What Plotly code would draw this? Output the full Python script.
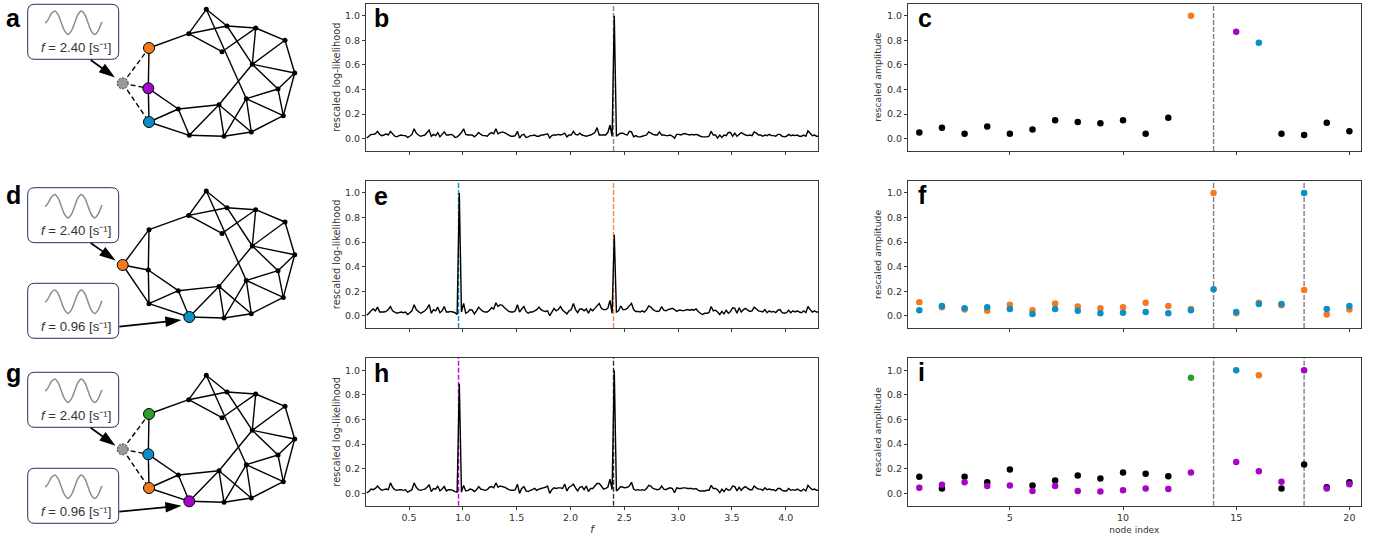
import plotly.graph_objects as go

W, H = 1383, 540

# ---------- likelihood curves: one value per frequency step ----------
FREQ_STEP = 0.02
FREQ_START = 0.107
LL_B = [
 .005,.02,.035,.035,.04,.06,.035,.025,.03,.04,
 .03,.06,.04,.02,.015,.025,.03,.025,.025,.01,
 .02,.035,.08,.045,.03,.02,.025,.03,.05,.07,
 .02,.035,.025,.05,.015,.035,.055,.03,.03,.035,
 .03,.01,.015,.03,.05,.08,.035,.03,.03,.03,
 .015,.03,.05,.035,.025,.025,.02,.04,.05,.04,
 .08,.04,.05,.055,.05,.04,.03,.02,.02,.025,
 .06,.005,.03,.035,.01,.015,.025,.025,.03,.02,
 .02,.03,.03,.035,.04,.005,.025,.03,.03,.035,
 .03,.035,.045,.015,.03,.03,.06,.035,.03,.045,
 .03,.025,.02,.025,.03,.04,.05,.09,.03,.03,
 .03,.03,.05,.11,.02,1.0,.02,.035,.045,.045,
 .035,.03,.06,.055,.015,.025,.015,.015,.02,.025,
 .03,.055,.045,.035,.03,.03,.055,.03,.03,.025,
 .025,.03,.02,.005,.035,.035,.03,.04,.04,.035,
 .03,.035,.03,.035,.03,.02,.015,.015,.015,.02,
 .06,.03,.03,.005,.03,.01,.03,.025,.05,.05,
 .02,.045,.02,.035,.05,.04,.03,.025,.03,.025,
 .055,.045,.03,.03,.02,.03,.025,.035,.025,.025,
 .02,.035,.035,.02,.015,.02,.035,.025,.03,.025,
 .03,.02,.02,.03,.02,.065,.045,.025,.03,.02,
 .02]
LL_E = [
 .005,.02,.04,.055,.04,.07,.03,.03,.03,.035,
 .05,.075,.04,.03,.02,.025,.03,.025,.03,.01,
 .025,.04,.09,.05,.035,.02,.03,.04,.06,.09,
 .02,.05,.04,.07,.025,.04,.075,.03,.03,.035,
 .03,.025,.01,1.0,.03,.10,.02,.03,.05,.045,
 .015,.04,.07,.05,.035,.03,.03,.045,.065,.055,
 .105,.075,.09,.085,.065,.05,.035,.03,.03,.04,
 .09,.03,.055,.075,.035,.02,.03,.03,.04,.05,
 .07,.05,.04,.035,.04,.0,.03,.06,.04,.05,
 .075,.045,.03,.015,.04,.05,.10,.05,.025,.055,
 .055,.04,.055,.02,.055,.04,.06,.08,.10,.06,
 .05,.05,.06,.125,.02,.66,.03,.04,.08,.05,
 .05,.06,.08,.10,.05,.035,.035,.03,.04,.03,
 .05,.08,.07,.05,.04,.035,.04,.075,.045,.04,
 .05,.055,.06,.05,.035,.045,.045,.04,.045,.05,
 .045,.05,.045,.055,.035,.02,.01,.02,.02,.025,
 .075,.04,.045,.03,.01,.035,.015,.045,.02,.035,
 .065,.06,.02,.065,.03,.05,.06,.045,.035,.04,
 .07,.055,.04,.035,.03,.05,.025,.04,.03,.035,
 .025,.045,.05,.025,.02,.025,.045,.025,.04,.03,
 .04,.03,.025,.04,.025,.075,.05,.03,.04,.03,
 .03]
LL_H = [
 .005,.015,.035,.03,.04,.06,.04,.025,.03,.035,
 .03,.085,.05,.03,.025,.03,.03,.025,.03,.01,
 .02,.03,.085,.05,.03,.025,.03,.035,.05,.07,
 .015,.04,.035,.06,.02,.035,.055,.02,.03,.03,
 .025,.015,.01,.89,.01,.065,.02,.025,.035,.03,
 .015,.03,.055,.035,.03,.025,.03,.05,.055,.045,
 .085,.05,.06,.055,.05,.04,.03,.025,.025,.03,
 .075,.0,.04,.055,.02,.015,.025,.03,.04,.025,
 .035,.04,.045,.05,.06,.0,.03,.045,.04,.045,
 .045,.04,.075,.02,.05,.06,.075,.045,.02,.05,
 .055,.03,.06,.015,.04,.04,.06,.08,.08,.06,
 .035,.04,.05,.115,.03,1.0,.02,.035,.055,.05,
 .045,.05,.06,.09,.035,.025,.03,.025,.03,.025,
 .04,.065,.06,.04,.035,.03,.035,.06,.035,.03,
 .04,.045,.04,.005,.045,.04,.04,.045,.045,.04,
 .04,.04,.035,.04,.025,.02,.02,.02,.025,.025,
 .065,.04,.04,.03,.005,.035,.015,.04,.025,.03,
 .06,.055,.02,.05,.025,.045,.055,.04,.03,.03,
 .06,.045,.035,.035,.025,.045,.03,.035,.03,.03,
 .02,.04,.04,.025,.02,.02,.04,.025,.03,.025,
 .035,.025,.02,.035,.02,.065,.045,.03,.035,.025,
 .025]

FREQ_A, FREQ_B = 0.96, 2.40

# ---------- node amplitudes ----------
C_NODES = [1,2,3,4,5,6,7,8,9,10,11,12,17,18,19,20]
C_BLACK = [.05,.09,.04,.10,.04,.075,.15,.135,.125,.15,.04,.17,.04,.03,.13,.06]
C_ORANGE_NODE, C_ORANGE = [13], [1.0]
C_PURPLE_NODE, C_PURPLE = [15], [.87]
C_BLUE_NODE, C_BLUE = [16], [.78]

F_NODES = list(range(1, 21))
F_ORANGE = [.11,.07,.05,.04,.09,.045,.10,.075,.06,.07,.105,.08,.055,1.0,.02,.105,.085,.21,.01,.05]
F_BLUE = [.045,.08,.06,.07,.055,.015,.055,.04,.02,.025,.03,.02,.045,.215,.03,.095,.095,1.0,.055,.08]

I_NODES_BLACK = [1,2,3,4,5,6,7,8,9,10,11,12,17,18,19,20]
I_BLACK = [.135,.04,.135,.09,.195,.065,.105,.145,.12,.17,.16,.14,.04,.235,.05,.09]
I_NODES_PURPLE = [1,2,3,4,5,6,7,8,9,10,11,12,13,15,16,17,18,19,20]
I_PURPLE = [.045,.07,.09,.06,.065,.02,.06,.02,.015,.025,.04,.035,.17,.255,.18,.095,1.0,.04,.075]
I_GREEN_NODE, I_GREEN = [13], [.94]
I_BLUE_NODE, I_BLUE = [15], [1.0]
I_ORANGE_NODE, I_ORANGE = [16], [.96]

# ---------- network (node id -> position in picture pixels, first panel) ----------
NODE_X = {1:206.3,2:227,3:255.7,4:285,5:294.7,6:283.3,7:251.3,8:224,9:188.7,10:222,
          11:252.3,12:278,13:149,14:122.7,15:148.3,16:149,17:178.3,18:189.3,19:246.3,20:219}
NODE_Y = {1:9.3,2:26,3:28,4:40.3,5:73,6:115.7,7:132,8:136.3,9:33.7,10:51.7,
          11:64.3,12:89,13:48,14:83.3,15:88.3,16:122,17:109,18:135.3,19:98.7,20:104.7}
EDGES = [(1,9),(1,2),(1,19),(9,2),(9,10),(2,3),(2,11),(10,3),(3,11),(3,4),(4,11),(4,5),
         (11,5),(11,12),(12,5),(5,6),(12,6),(12,19),(19,6),(19,7),(19,8),(20,7),(20,8),
         (20,18),(20,11),(20,17),(17,18),(17,16),(17,15),(16,18),(18,8),(8,7),(7,6),
         (13,9),(13,15),(15,16)]
HUB_EDGES = [(14,13),(14,15),(14,16)]

ORANGE, BLUE, PURPLE, GREEN, GREY = "#F47A20", "#0A90C4", "#A305CB", "#2CA02C", "#999999"

NET_SHIFT = {"a": 0.0, "d": 181.7, "g": 366.0}
NET_COLORS = {"a": {13: ORANGE, 15: PURPLE, 16: BLUE, 14: GREY},
              "d": {14: ORANGE, 18: BLUE},
              "g": {13: GREEN, 15: BLUE, 16: ORANGE, 18: PURPLE, 14: GREY}}

# callouts: box top in pixels, label, arrow start and end
CALLOUTS = [
    (4.3,   "2.40", (90.7, 60.0),   (115.0, 77.5)),
    (187.7, "2.40", (90.7, 243.0),  (115.5, 260.5)),
    (283.3, "0.96", (119.3, 326.7), (181.5, 320.0)),
    (372.3, "2.40", (90.7, 427.7),  (115.5, 445.7)),
    (468.3, "0.96", (119.3, 511.7), (181.5, 505.7)),
]
WAVE_X = [45.3,48,51.3,54.7,58,61.3,64.7,68,71.3,74.7,78,81.3,84.7,88,91.3,94.7,98,101.3,102]
WAVE_DY = [19,15.5,9.5,6.7,10.1,18.5,26.8,30.2,26.8,18.5,10.1,6.7,10.1,18.5,26.8,30.2,26.8,19,17.5]

# ---------- panel frames in pixels ----------
COL_L = [(366.0, 818.0), (908.0, 1360.7)]
ROWS = [(3.5, 151.0), (180.7, 328.0), (358.0, 505.7)]
FONT = "DejaVu Sans"
TXT = "#333333"
AXC = "#3a3a3a"

fig = go.Figure()
layout = {}

def yd(t, b):
    return [1 - b / H, 1 - t / H]

def add_axis(n, col, row):
    suffix = "" if n == 1 else str(n)
    xl, xr = COL_L[col]
    t, b = ROWS[row]
    xa = dict(domain=[xl / W, xr / W], anchor="y" + suffix, showgrid=False, zeroline=False,
              showline=True, mirror=True, linecolor=AXC, linewidth=1, ticks="outside", ticklen=3,
              tickwidth=1, tickcolor=AXC, tickfont=dict(family=FONT, size=9.5, color=TXT),
              showticklabels=row == 2)
    if col == 0:
        xa.update(range=[0.1, 4.3], tickmode="linear", tick0=0.5, dtick=0.5, tickformat=".1f")
        if row == 2:
            xa["title"] = dict(text="<i>f</i>", font=dict(family=FONT, size=10.5, color=TXT), standoff=3)
    else:
        xa.update(range=[0.5, 20.5], tickmode="array", tickvals=[5, 10, 15, 20])
        if row == 2:
            xa["title"] = dict(text="node index", font=dict(family=FONT, size=9, color=TXT), standoff=4)
    ya = dict(domain=yd(t, b), anchor="x" + suffix, range=[-0.1, 1.1], showgrid=False, zeroline=False,
              showline=True, mirror=True, linecolor=AXC, linewidth=1, ticks="outside", ticklen=3,
              tickwidth=1, tickcolor=AXC, tickfont=dict(family=FONT, size=9.5, color=TXT),
              tickmode="linear", tick0=0, dtick=0.2, tickformat=".1f",
              title=dict(text="rescaled log-likelihood" if col == 0 else "rescaled amplitude",
                         font=dict(family=FONT, size=9.8 if col == 0 else 9.3, color=TXT),
                         standoff=2 if col == 0 else 3))
    layout["xaxis" + suffix] = xa
    layout["yaxis" + suffix] = ya
    return "x" + suffix, "y" + suffix

shapes = []
annots = []

def vline(xv, xr, yr, color):
    shapes.append(dict(type="line", xref=xr, yref=yr, x0=xv, x1=xv, y0=-0.1, y1=1.1, layer="below",
                       line=dict(color=color, width=1.4, dash="5px,2px")))

def curve(ll, xr, yr):
    xs = [round(FREQ_START + i * FREQ_STEP, 3) for i in range(len(ll))]
    fig.add_trace(go.Scatter(x=xs, y=ll, xaxis=xr, yaxis=yr, mode="lines", showlegend=False,
                             line=dict(color="black", width=1.4, simplify=False), hoverinfo="skip"))

def dots(xv, yv, color, xr, yr):
    fig.add_trace(go.Scatter(x=xv, y=yv, xaxis=xr, yaxis=yr, mode="markers", showlegend=False,
                             marker=dict(color=color, size=6.5, line=dict(width=0)), hoverinfo="skip"))

# panel b, e, h
xr, yr = add_axis(1, 0, 0)
vline(FREQ_B, xr, yr, "#888888"); curve(LL_B, xr, yr)
xr, yr = add_axis(2, 0, 1)
vline(FREQ_A, xr, yr, BLUE); vline(FREQ_B, xr, yr, "#EE8A50"); curve(LL_E, xr, yr)
xr, yr = add_axis(3, 0, 2)
vline(FREQ_A, xr, yr, "#C000E0"); vline(FREQ_B, xr, yr, "#333333"); curve(LL_H, xr, yr)

# panel c
xr, yr = add_axis(4, 1, 0)
vline(14, xr, yr, "#808080")
dots(C_NODES, C_BLACK, "black", xr, yr)
dots(C_ORANGE_NODE, C_ORANGE, ORANGE, xr, yr)
dots(C_PURPLE_NODE, C_PURPLE, PURPLE, xr, yr)
dots(C_BLUE_NODE, C_BLUE, BLUE, xr, yr)
# panel f
xr, yr = add_axis(5, 1, 1)
vline(14, xr, yr, "#808080"); vline(18, xr, yr, "#808080")
dots(F_NODES, F_ORANGE, ORANGE, xr, yr)
dots(F_NODES, F_BLUE, BLUE, xr, yr)
# panel i
xr, yr = add_axis(6, 1, 2)
vline(14, xr, yr, "#808080"); vline(18, xr, yr, "#808080")
dots(I_NODES_BLACK, I_BLACK, "black", xr, yr)
dots(I_NODES_PURPLE, I_PURPLE, PURPLE, xr, yr)
dots(I_GREEN_NODE, I_GREEN, GREEN, xr, yr)
dots(I_BLUE_NODE, I_BLUE, BLUE, xr, yr)
dots(I_ORANGE_NODE, I_ORANGE, ORANGE, xr, yr)

# page axis in picture pixels, for networks, callouts and panel letters
layout["xaxis7"] = dict(domain=[0, 1], range=[0, W], visible=False, anchor="y7", fixedrange=True)
layout["yaxis7"] = dict(domain=[0, 1], range=[H, 0], visible=False, anchor="x7", fixedrange=True)
PX, PY = "x7", "y7"

for panel, dy in NET_SHIFT.items():
    ex, ey = [], []
    for u, v in EDGES:
        ex += [NODE_X[u], NODE_X[v], None]
        ey += [NODE_Y[u] + dy, NODE_Y[v] + dy, None]
    hx, hy = [], []
    for u, v in HUB_EDGES:
        hx += [NODE_X[u], NODE_X[v], None]
        hy += [NODE_Y[u] + dy, NODE_Y[v] + dy, None]
    solid_hub = panel == "d"
    fig.add_trace(go.Scatter(x=ex, y=ey, xaxis=PX, yaxis=PY, mode="lines", showlegend=False, hoverinfo="skip",
                             line=dict(color="black", width=1.4)))
    fig.add_trace(go.Scatter(x=hx, y=hy, xaxis=PX, yaxis=PY, mode="lines", showlegend=False, hoverinfo="skip",
                             line=dict(color="black", width=1.4, dash="solid" if solid_hub else "5px,3px")))
    colors = NET_COLORS[panel]
    small = [n for n in NODE_X if n not in colors]
    fig.add_trace(go.Scatter(x=[NODE_X[n] for n in small], y=[NODE_Y[n] + dy for n in small],
                             xaxis=PX, yaxis=PY, mode="markers", showlegend=False, hoverinfo="skip",
                             marker=dict(color="black", size=5, line=dict(width=0))))
    big = [n for n in colors if colors[n] != GREY]
    fig.add_trace(go.Scatter(x=[NODE_X[n] for n in big], y=[NODE_Y[n] + dy for n in big],
                             xaxis=PX, yaxis=PY, mode="markers", showlegend=False, hoverinfo="skip",
                             marker=dict(color=[colors[n] for n in big], size=11, line=dict(color="black", width=1))))
    if 14 in colors and colors[14] == GREY:
        cx, cy = NODE_X[14], NODE_Y[14] + dy
        shapes.append(dict(type="circle", xref=PX, yref=PY, x0=cx - 5.5, x1=cx + 5.5, y0=cy - 5.5, y1=cy + 5.5,
                           fillcolor=GREY, layer="above", line=dict(color="#333333", width=1, dash="2px,1.5px")))

BOX_L, BOX_R, BOX_H, RAD = 27.7, 118.7, 55.0, 7.0
for top, label, (ax0, ay0), (ax1, ay1) in CALLOUTS:
    b = top + BOX_H
    path = (f"M {BOX_L + RAD} {top} L {BOX_R - RAD} {top} Q {BOX_R} {top} {BOX_R} {top + RAD} "
            f"L {BOX_R} {b - RAD} Q {BOX_R} {b} {BOX_R - RAD} {b} L {BOX_L + RAD} {b} "
            f"Q {BOX_L} {b} {BOX_L} {b - RAD} L {BOX_L} {top + RAD} Q {BOX_L} {top} {BOX_L + RAD} {top} Z")
    shapes.append(dict(type="path", xref=PX, yref=PY, path=path, fillcolor="white", layer="below",
                       line=dict(color="#2B2B5E", width=1)))
    fig.add_trace(go.Scatter(x=WAVE_X, y=[top + d for d in WAVE_DY], xaxis=PX, yaxis=PY, mode="lines",
                             showlegend=False, hoverinfo="skip",
                             line=dict(color="#8C8C8C", width=1.5, shape="spline")))
    annots.append(dict(xref=PX, yref=PY, x=75.7, y=top + 42.7, showarrow=False, xanchor="center", yanchor="middle",
                       text=f"<i>f</i> = {label} [s\u207b\u00b9]",
                       font=dict(family="Liberation Sans", size=13.2, color="#333333")))
    fig.add_trace(go.Scatter(x=[ax0, ax1], y=[ay0, ay1], xaxis=PX, yaxis=PY, mode="lines+markers",
                             showlegend=False, hoverinfo="skip", line=dict(color="black", width=1.7),
                             marker=dict(symbol="arrow", size=[0, 17], angleref="previous", color="black",
                                         opacity=1, line=dict(width=0))))

LETTERS = [("a", 4.5, 27), ("b", 372.5, 27), ("c", 916.5, 27.7),
           ("d", 4.5, 204), ("e", 372.5, 205), ("f", 916.5, 204),
           ("g", 4.5, 382.7), ("h", 372.5, 382.7), ("i", 916.5, 381.7)]
for t, lx, ly in LETTERS:
    annots.append(dict(xref=PX, yref=PY, x=lx, y=ly + 5.5, showarrow=False, xanchor="left", yanchor="bottom",
                       text=f"<b>{t}</b>", borderpad=0, font=dict(family="Liberation Sans", size=25, color="black")))

fig.update_layout(width=W, height=H, autosize=False, margin=dict(l=0, r=0, t=0, b=0), paper_bgcolor="white",
                  plot_bgcolor="rgba(0,0,0,0)", showlegend=False, shapes=shapes, annotations=annots, **layout)
fig.write_html("out.html", post_script="document.body.style.margin='0';document.documentElement.style.overflow='hidden';",
               config=dict(displayModeBar=False))
